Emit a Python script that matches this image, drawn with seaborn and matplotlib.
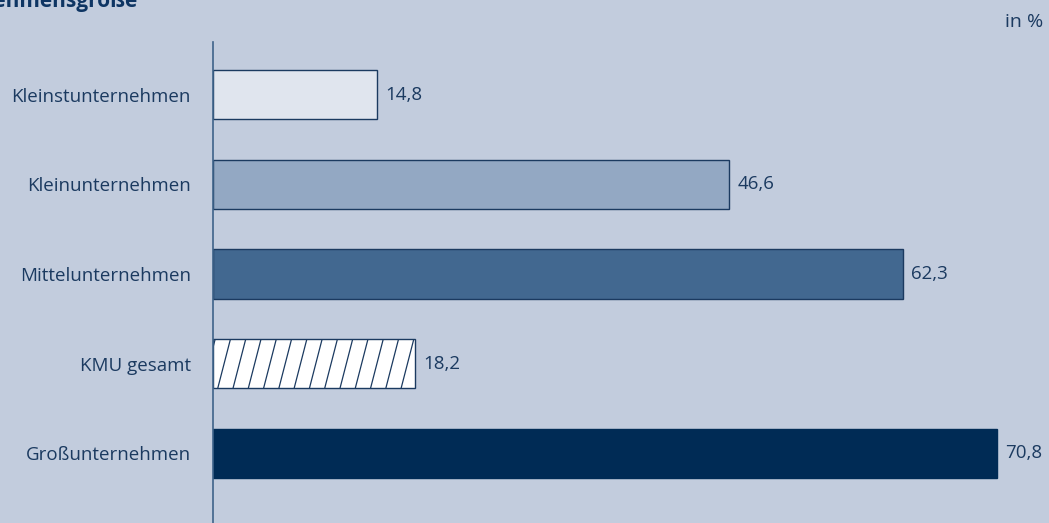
import matplotlib
matplotlib.use("Agg")
import matplotlib.pyplot as plt
import seaborn as sns
import pandas as pd
import numpy as np

categories = ["Kleinstunternehmen", "Kleinunternehmen", "Mittelunternehmen",
              "KMU gesamt", "Großunternehmen"]
values = [14.8, 46.6, 62.3, 18.2, 70.8]
value_labels = ["14,8", "46,6", "62,3", "18,2", "70,8"]
bar_colors = ["#E0E5EE", "#93A8C3", "#426890", "#FFFFFF", "#002B55"]

BG = "#C2CCDD"
NAVY = "#1B3A60"

sns.set_theme(style="white")
plt.rcParams["font.family"] = ["Open Sans", "DejaVu Sans"]

df = pd.DataFrame({"Kategorie": categories, "Wert": values})

fig = plt.figure(figsize=(10.49, 5.23), dpi=100, facecolor=BG)
ax = fig.add_axes([213 / 1049, 0.0, 1 - 213 / 1049, 1 - 42 / 523])
ax.set_facecolor(BG)

sns.barplot(data=df, x="Wert", y="Kategorie", hue="Kategorie",
            palette=bar_colors, order=categories, hue_order=categories,
            width=0.55, saturation=1, legend=False, ax=ax,
            edgecolor=NAVY, linewidth=1.0)

ax.set_xlim(0, 75.5)
ax.set_ylim(4.78, -0.59)

# steep diagonal hatching for the "KMU gesamt" bar, clipped to the bar
for patch, cat in zip(ax.patches, categories):
    if cat == "Großunternehmen":
        patch.set_edgecolor("#002B55")
    if cat == "KMU gesamt":
        x0, y0 = patch.get_x(), patch.get_y()
        w, h = patch.get_width(), patch.get_height()
        step = 1.38          # spacing of hatch lines in data units
        lean = 1.15          # horizontal shift from bottom to top of a line
        for xs in np.arange(x0 - lean + 0.2, x0 + w + 0.2, step):
            ln, = ax.plot([xs, xs + lean], [y0 + h, y0], color=NAVY,
                          lw=0.9, zorder=patch.get_zorder() + 0.1)
            ln.set_clip_path(patch)

for i, (v, lab) in enumerate(zip(values, value_labels)):
    ax.text(v + 0.75, i, lab, va="center", ha="left", fontsize=13.5, color=NAVY)

ax.set_xlabel("")
ax.set_ylabel("")
ax.set_xticks([])
for s in ["top", "right", "bottom"]:
    ax.spines[s].set_visible(False)
ax.spines["left"].set_color("#3E6389")
ax.spines["left"].set_linewidth(1.2)
ax.tick_params(axis="y", length=0, pad=16, labelsize=13.5, labelcolor=NAVY)

fig.text(1043 / 1049, 1 - 22 / 523, "in %", ha="right", va="center",
         fontsize=14, color=NAVY)
fig.text(137 / 1049, 1 - 1 / 523, "nach Unternehmensgröße", ha="right", va="center",
         fontsize=15, fontweight="bold", color="#0E3563")

fig.savefig("out.png", dpi=100, facecolor=BG)
